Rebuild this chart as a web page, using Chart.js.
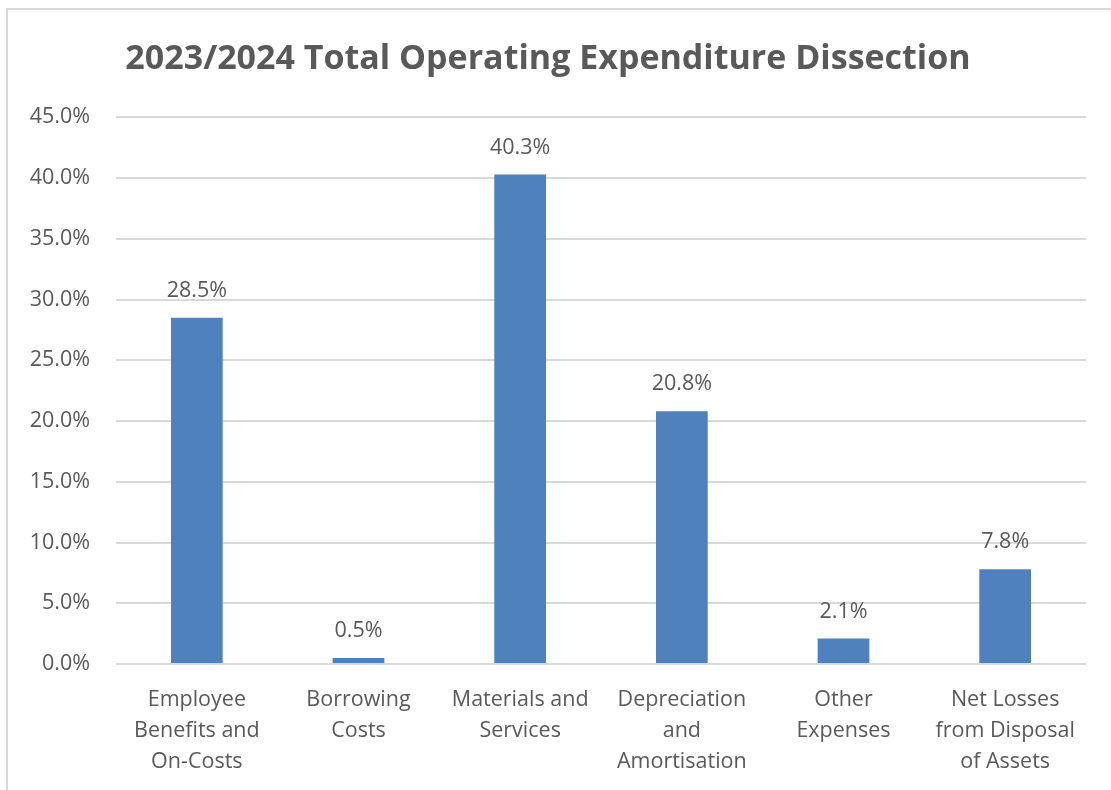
<!DOCTYPE html>
<html>
<head>
<meta charset="utf-8">
<script src="https://cdn.jsdelivr.net/npm/chart.js@4"></script>
<style>
  body { margin: 0; background: #fff; }
  #wrap { position: relative; width: 1111px; height: 790px; overflow: hidden; }
  #frame { position: absolute; left: 6px; top: 8px; width: 1130px; height: 820px; border: 2px solid #d9d9d9; box-sizing: border-box; pointer-events: none; }
  canvas { position: absolute; left: 0; top: 0; }
</style>
</head>
<body>
<div id="wrap">
  <canvas id="expChart" width="1111" height="790"></canvas>
  <div id="frame"></div>
</div>
<script>
// chart data
const categories = [
    ['Employee', 'Benefits and', 'On-Costs'],
    ['Borrowing', 'Costs'],
    ['Materials and', 'Services'],
    ['Depreciation', 'and', 'Amortisation'],
    ['Other', 'Expenses'],
    ['Net Losses', 'from Disposal', 'of Assets']
];
const shares = [28.5, 0.5, 40.3, 20.8, 2.1, 7.8];
const yTicks = [0, 5, 10, 15, 20, 25, 30, 35, 40, 45];
const chartTitle = '2023/2024 Total Operating Expenditure Dissection';

const FONT = '"Open Sans", Lato, sans-serif';
const GREY = '#595959';

// draw value labels above each bar
const barLabels = {
    id: 'barLabels',
    afterDatasetsDraw(chart) {
        const ctx = chart.ctx;
        const meta = chart.getDatasetMeta(0);
        ctx.save();
        ctx.font = '21.5px ' + FONT;
        ctx.fillStyle = GREY;
        ctx.textAlign = 'center';
        ctx.textBaseline = 'middle';
        meta.data.forEach((bar, i) => {
            ctx.fillText(shares[i].toFixed(1) + '%', bar.x, bar.y - 27);
        });
        ctx.restore();
    }
};

new Chart(document.getElementById('expChart'), {
    type: 'bar',
    data: {
        labels: categories,
        datasets: [{
            data: shares,
            backgroundColor: '#4f81bd',
            barPercentage: 0.32,
            categoryPercentage: 1
        }]
    },
    options: {
        responsive: false,
        animation: false,
        layout: { padding: { left: 10, right: 25, top: 22, bottom: 0 } },
        plugins: {
            legend: { display: false },
            tooltip: { enabled: false },
            title: {
                display: true,
                text: chartTitle,
                color: GREY,
                font: { family: FONT, size: 34, weight: 'bold' },
                padding: { top: 17, bottom: 37.5 }
            }
        },
        scales: {
            x: {
                grid: { display: false, drawTicks: false },
                border: { display: false },
                ticks: {
                    color: GREY,
                    font: { family: FONT, size: 21.5, lineHeight: 1.44 },
                    padding: 20,
                    maxRotation: 0,
                    autoSkip: false
                },
                afterFit(scale) { scale.height = 126; }
            },
            y: {
                min: 0,
                max: 45,
                afterBuildTicks(scale) { scale.ticks = yTicks.map(v => ({ value: v })); },
                grid: { color: '#d9d9d9', lineWidth: 2, drawTicks: false },
                border: { display: false },
                ticks: {
                    color: GREY,
                    font: { family: FONT, size: 21.5 },
                    padding: 26,
                    callback: v => v.toFixed(1) + '%'
                },
                afterFit(scale) { scale.width = 106; }
            }
        }
    },
    plugins: [barLabels]
});
</script>
</body>
</html>
